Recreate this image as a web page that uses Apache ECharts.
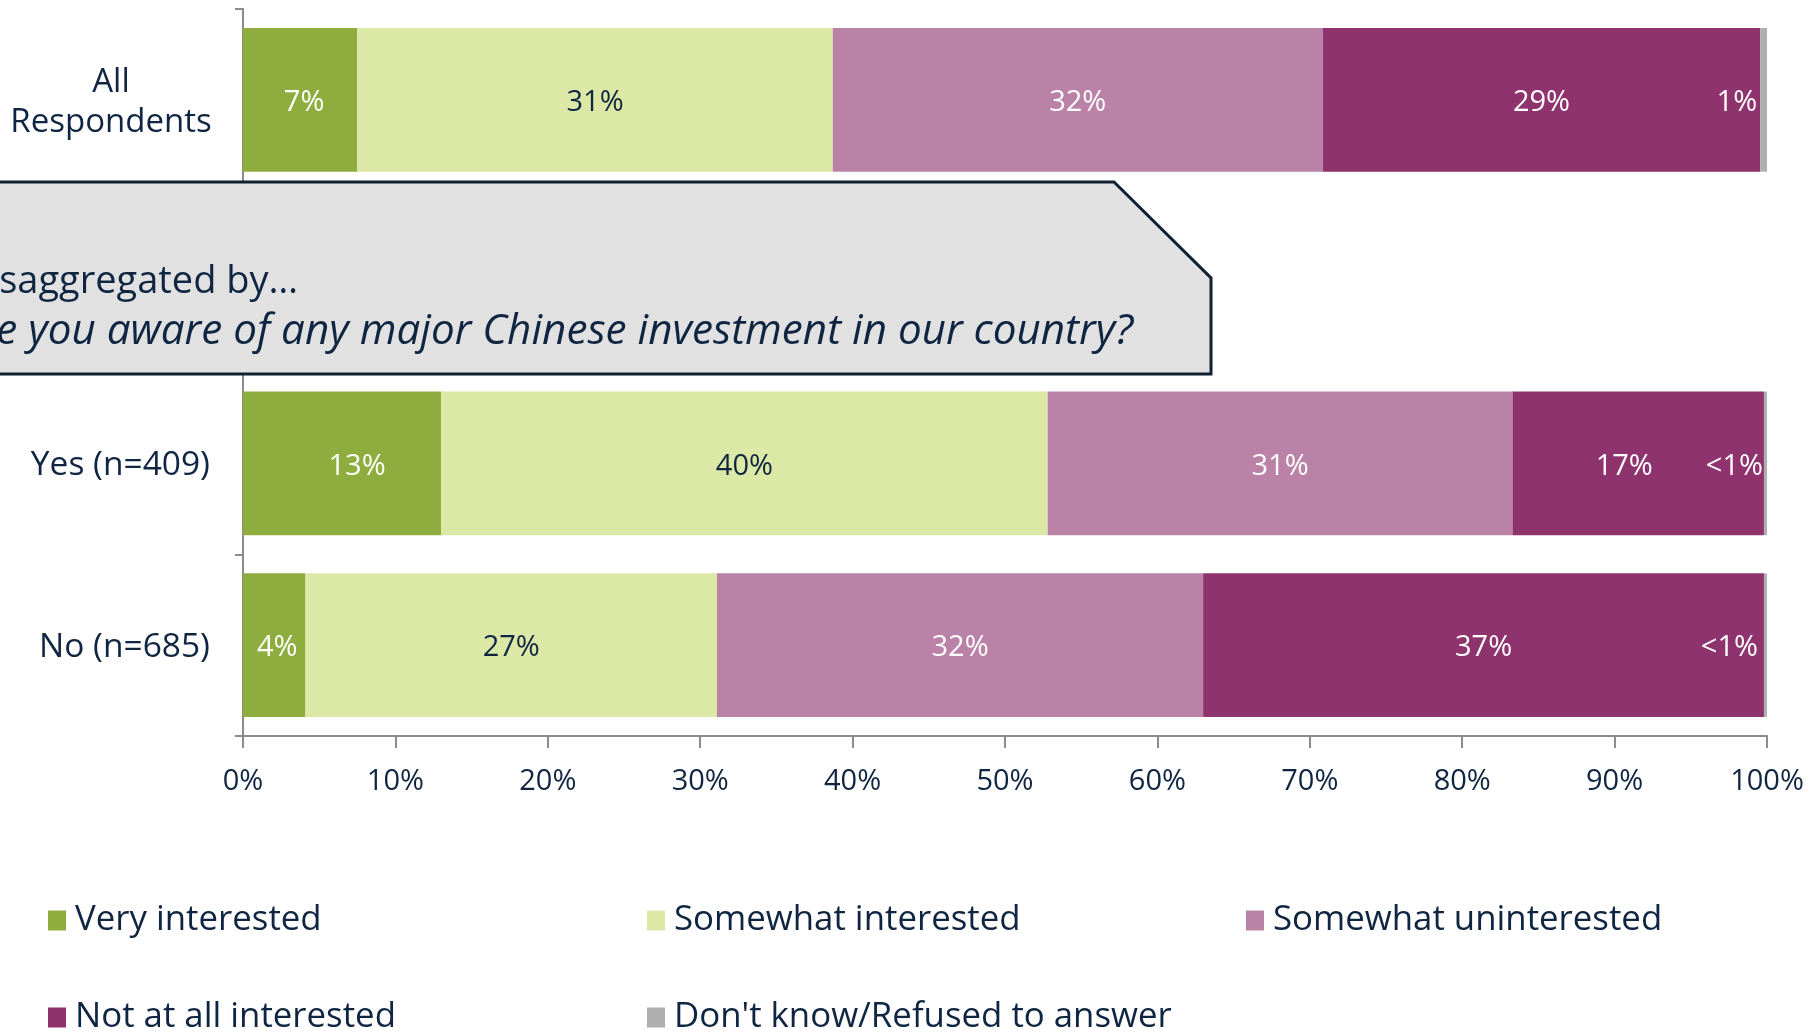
<!DOCTYPE html>
<html>
<head>
<meta charset="utf-8">
<script src="https://cdn.jsdelivr.net/npm/echarts@6/dist/echarts.min.js"></script>
<style>
html,body{margin:0;padding:0;background:#fff;}
#chart{width:1813px;height:1032px;}
</style>
</head>
<body>
<div id="chart"></div>
<script>
// ---- data ----
const categories = ['All\nRespondents', '', 'Yes (n=409)', 'No (n=685)'];
const seriesNames = ['Very interested', 'Somewhat interested', 'Somewhat uninterested', 'Not at all interested', "Don't know/Refused to answer"];
const veryInterested       = [7.5, '-', 13.0, 4.1];
const somewhatInterested   = [31.2, '-', 39.8, 27.0];
const somewhatUninterested = [32.15, '-', 30.5, 31.9];
const notAtAllInterested   = [28.7, '-', 16.5, 36.8];
const dontKnow             = [0.45, '-', 0.2, 0.2];
const veryLabels       = ['7%', '', '13%', '4%'];
const somewhatLabels   = ['31%', '', '40%', '27%'];
const uninterLabels    = ['32%', '', '31%', '32%'];
const notAtAllLabels   = ['29%', '', '17%', '37%'];
const dontKnowLabels   = ['1%', '', '<1%', '<1%'];
const xTicks = [0, 10, 20, 30, 40, 50, 60, 70, 80, 90, 100];
const calloutLine1 = 'Disaggregated by\u2026';
const calloutLine2 = 'Are you aware of any major Chinese investment in our country?';

// ---- style ----
const FONT = "'Open Sans', 'Noto Sans', sans-serif";
const NAVY = '#0f2541';
const colors = ['#8fad3e', '#dce8a6', '#bb82a8', '#8e336d', '#afafaf'];
const labelColors = ['#ffffff', NAVY, '#ffffff', '#ffffff', '#ffffff'];
// per-label horizontal nudges (pixels), as placed in the original
const labelNudges = [
  [4, 0, 15, 3],
  [0, 0, 0, 0],
  [0, 0, 0, 0],
  [0, 0, -14, 0],
  [0, 0, 2, -3]
];

const dataSets = [veryInterested, somewhatInterested, somewhatUninterested, notAtAllInterested, dontKnow];
const labelSets = [veryLabels, somewhatLabels, uninterLabels, notAtAllLabels, dontKnowLabels];

const series = dataSets.map((d, i) => ({
  name: seriesNames[i],
  type: 'bar',
  stack: 'total',
  barCategoryGap: '21%',
  data: d.map((v, j) => ({ value: v, label: { offset: [labelNudges[i][j], 3] } })),
  itemStyle: { color: colors[i] },
  label: {
    show: true,
    position: i === 4 ? 'left' : 'inside',
    distance: 3,
    color: labelColors[i],
    fontFamily: FONT,
    fontSize: 29,
    formatter: p => labelSets[i][p.dataIndex]
  }
}));

const legendPos = [[48, 903], [647, 903], [1246, 903], [48, 1000], [647, 1000]];
const legends = seriesNames.map((n, i) => ({
  data: [n],
  left: legendPos[i][0],
  top: legendPos[i][1],
  padding: 0,
  icon: 'rect',
  itemWidth: 18,
  itemHeight: 20,
  selectedMode: false,
  textStyle: { fontFamily: FONT, fontSize: 34.8, color: NAVY, padding: [0, 0, 0, 4] }
}));

const chart = echarts.init(document.getElementById('chart'));
chart.setOption({
  animation: false,
  backgroundColor: '#ffffff',
  grid: { left: 243, right: 46, top: 9, bottom: 296, containLabel: false },
  legend: legends,
  xAxis: {
    type: 'value',
    min: xTicks[0],
    max: xTicks[xTicks.length - 1],
    interval: 10,
    axisLine: { show: true, lineStyle: { color: '#8c8c8c', width: 2 } },
    axisTick: { show: true, length: 12, lineStyle: { color: '#8c8c8c', width: 2 } },
    splitLine: { show: false },
    axisLabel: { formatter: '{value}%', margin: 31, fontFamily: FONT, fontSize: 29, color: NAVY }
  },
  yAxis: {
    type: 'category',
    inverse: true,
    data: categories,
    axisLine: { show: true, lineStyle: { color: '#8c8c8c', width: 2 } },
    axisTick: { show: true, length: 8, lineStyle: { color: '#8c8c8c', width: 2 } },
    axisLabel: {
      margin: 33,
      fontFamily: FONT,
      fontSize: 33.5,
      color: NAVY,
      formatter: v => v.indexOf('\n') >= 0
        ? v.split('\n').map(s => '{c|' + s + '}').join('\n')
        : '{n|' + v + '}',
      rich: {
        c: { width: 198, align: 'center', fontFamily: FONT, fontSize: 33, lineHeight: 40, color: NAVY, padding: [5, 0, 0, 0] },
        n: { fontFamily: FONT, fontSize: 33.5, color: NAVY, padding: [5, 0, 0, 0] }
      }
    }
  },
  series: series,
  graphic: [
    {
      type: 'polygon',
      z: 100,
      shape: { points: [[-10, 182], [1114, 182], [1211, 278], [1211, 374], [-10, 374]] },
      style: { fill: '#e1e1e1', stroke: '#0f2033', lineWidth: 3 }
    },
    {
      type: 'text',
      z: 101,
      x: -38,
      y: 282,
      style: { text: calloutLine1, font: "38px 'Open Sans', sans-serif", fill: NAVY, textVerticalAlign: 'middle' }
    },
    {
      type: 'text',
      z: 101,
      x: -44,
      y: 332,
      style: { text: calloutLine2, font: "italic 42.2px 'Open Sans', sans-serif", fill: NAVY, textVerticalAlign: 'middle' }
    }
  ]
});
</script>
</body>
</html>
